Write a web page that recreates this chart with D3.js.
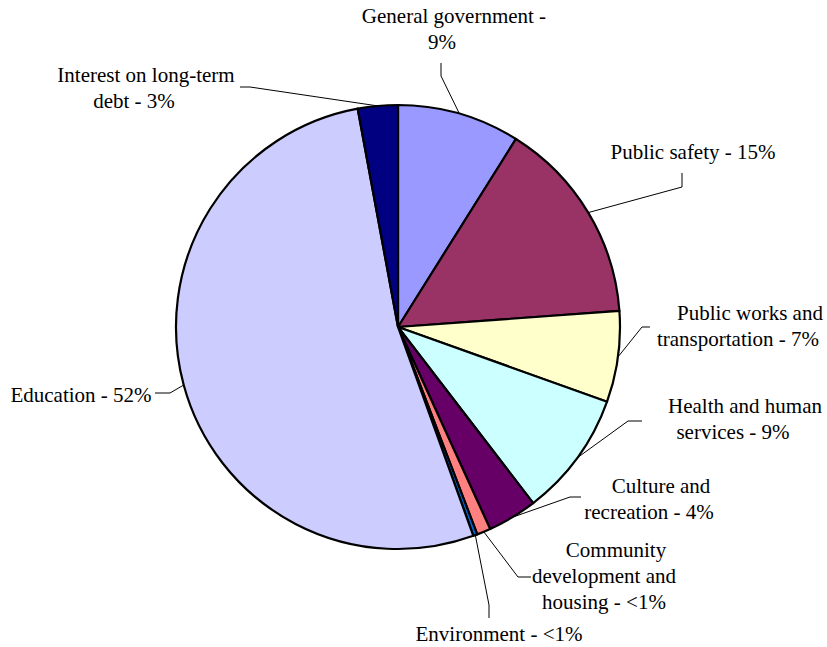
<!DOCTYPE html>
<html>
<head>
<meta charset="utf-8">
<script src="https://cdn.jsdelivr.net/npm/d3@7"></script>
<style>
  html, body { margin: 0; padding: 0; background: #fff; }
  svg { display: block; }
  text { font-family: "Liberation Serif", "Times New Roman", serif; font-size: 21px; fill: #000; }
</style>
</head>
<body>
<svg id="chart" width="827" height="647"></svg>
<script>
// ---- data ----
const categories = [
  "General government",
  "Public safety",
  "Public works and transportation",
  "Health and human services",
  "Culture and recreation",
  "Community development and housing",
  "Environment",
  "Education",
  "Interest on long-term debt"
];
const values = [8.9, 14.9, 6.6, 9.1, 3.6, 1.0, 0.3, 52.5, 2.9];
const labelLines = [
  ["General government -", "9%"],
  ["Public safety - 15%"],
  ["Public works and", "transportation - 7%"],
  ["Health and human", "services - 9%"],
  ["Culture and", "recreation - 4%"],
  ["Community", "development and", "housing - <1%"],
  ["Environment - <1%"],
  ["Education - 52%"],
  ["Interest on long-term", "debt - 3%"]
];
const colors = ["#9999FF", "#993366", "#FFFFCC", "#CCFFFF", "#660066", "#FF8080", "#0066CC", "#CCCCFF", "#000080"];

// ---- layout (label placement) ----
const labelPos = [
  {x: 454, y: 23},
  {x: 693, y: 159},
  {x: 750, y: 320},
  {x: 745, y: 413},
  {x: 661, y: 493},
  {x: 616, y: 557},
  {x: 499, y: 641},
  {x: 81, y: 402},
  {x: 146, y: 82}
];
const leaderEnd = [[441,63],[682,173],[650,327],[642,421],[581,497],[531,577],[489,618],[155,393],[240,87]];
const leaderKnee = [[441,76],[682,187],[642,327],[628,421],[570,497],[518,577],[489,605],[170,393],[250,87]];

const cx = 398, cy = 327, R = 222;
const lineH = 26, subDx = -12;

const svg = d3.select("#chart");
const g = svg.append("g").attr("transform", `translate(${cx},${cy})`);

const data = categories.map((c, i) => ({name: c, value: values[i], i}));
const pie = d3.pie().value(d => d.value).sort(null);
const arcs = pie(data);
const arc = d3.arc().innerRadius(0).outerRadius(R);

g.selectAll("path.slice").data(arcs).enter().append("path")
  .attr("class", "slice")
  .attr("d", arc)
  .attr("fill", d => colors[d.data.i])
  .attr("stroke", "#000")
  .attr("stroke-width", 2.2)
  .attr("stroke-linejoin", "round");

// leader lines
const line = d3.line();
arcs.forEach(a => {
  const i = a.data.i;
  const mid = (a.startAngle + a.endAngle) / 2;
  const px = cx + R * Math.sin(mid), py = cy - R * Math.cos(mid);
  svg.append("path")
    .attr("d", line([leaderEnd[i], leaderKnee[i], [px, py]]))
    .attr("fill", "none")
    .attr("stroke", "#000")
    .attr("stroke-width", 1);
});

// labels
labelLines.forEach((lines, i) => {
  const t = svg.append("text")
    .attr("text-anchor", "middle");
  lines.forEach((ln, k) => {
    t.append("tspan")
      .attr("x", labelPos[i].x + (k > 0 ? subDx : 0))
      .attr("y", labelPos[i].y + k * lineH)
      .text(ln);
  });
});
</script>
</body>
</html>
